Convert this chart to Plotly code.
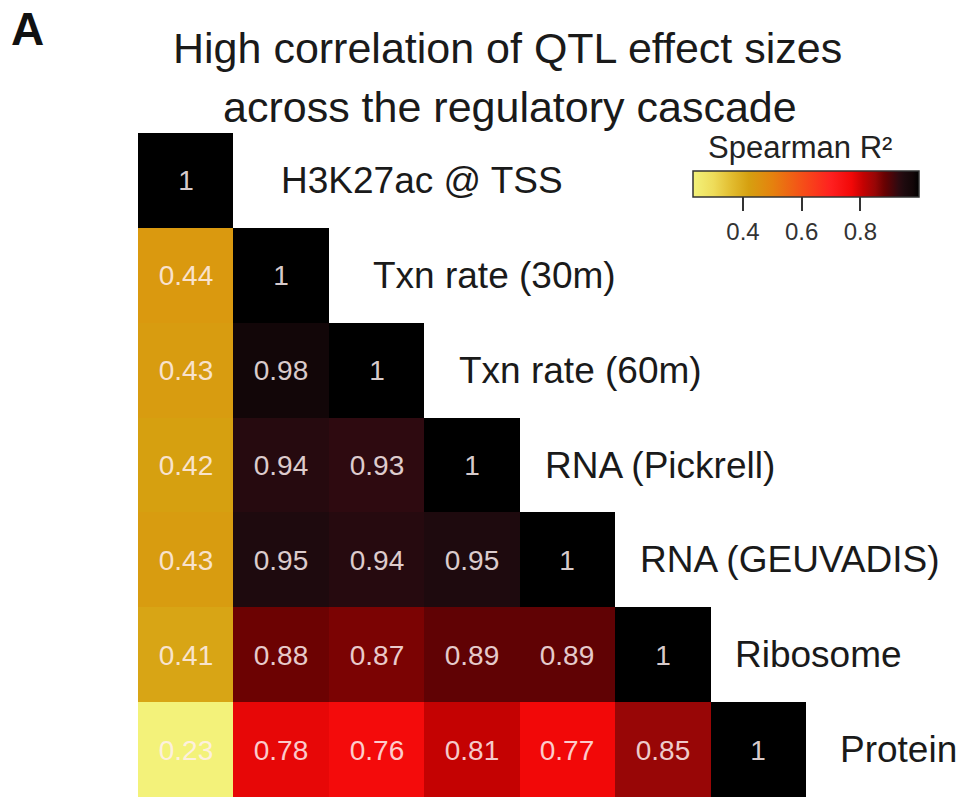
import plotly.graph_objects as go

labels = ["H3K27ac @ TSS", "Txn rate (30m)", "Txn rate (60m)", "RNA (Pickrell)",
          "RNA (GEUVADIS)", "Ribosome", "Protein"]
row0 = [1]
row1 = [0.44, 1]
row2 = [0.43, 0.98, 1]
row3 = [0.42, 0.94, 0.93, 1]
row4 = [0.43, 0.95, 0.94, 0.95, 1]
row5 = [0.41, 0.88, 0.87, 0.89, 0.89, 1]
row6 = [0.23, 0.78, 0.76, 0.81, 0.77, 0.85, 1]
rows = [row0, row1, row2, row3, row4, row5, row6]
cbar_ticks = [0.4, 0.6, 0.8]
zmin, zmax = 0.23, 1.0

n = len(labels)
z = [[r[j] if j < len(r) else None for j in range(n)] for r in rows]
txt = [[(f"{r[j]:g}" if j < len(r) else "") for j in range(n)] for r in rows]

stops = [(0.23, "#f3f27a"), (0.30, "#eedc5a"), (0.36, "#e2bd30"), (0.42, "#d6a010"),
         (0.50, "#e5820e"), (0.60, "#f55018"), (0.70, "#ff2020"), (0.77, "#f20808"),
         (0.81, "#c40202"), (0.85, "#980606"), (0.88, "#6c0202"), (0.89, "#600204"),
         (0.93, "#2e0a10"), (0.95, "#1e0a0e"), (0.98, "#120608"), (1.00, "#000000")]
colorscale = [[(v - zmin) / (zmax - zmin), c] for v, c in stops]

FONT = "Liberation Sans, Arial, Helvetica, sans-serif"

fig = go.Figure(go.Heatmap(
    z=z, x=list(range(n)), y=list(range(n)), text=txt, texttemplate="%{text}",
    textfont=dict(family=FONT, size=28, color="rgba(255,240,240,0.85)"),
    colorscale=colorscale, zmin=zmin, zmax=zmax, hoverongaps=False,
    colorbar=dict(
        orientation="h", lenmode="pixels", len=226, thickness=26,
        x=0.831, xanchor="left", y=(797 - 171) / 664, yanchor="top", yref="paper",
        xpad=0, ypad=0,
        outlinewidth=1.5, outlinecolor="#333",
        tickvals=cbar_ticks, ticktext=[f"{t:g}" for t in cbar_ticks],
        ticks="outside", ticklen=14, tickwidth=1.5, tickcolor="#333",
        tickfont=dict(family=FONT, size=24, color="#333"),
    ),
))

# colorbar title
fig.add_annotation(xref="paper", yref="paper", x=(800 - 138) / 668, y=1.0, yshift=133 - 147,
                   text="Spearman R²", showarrow=False, xanchor="center", yanchor="middle",
                   font=dict(family=FONT, size=31, color="#222"))

label_shift_px = [46, 42, 33, 23, 23, 22, 32]
for i, lab in enumerate(labels):
    fig.add_annotation(x=i + 0.5, y=i, text=lab, showarrow=False, xanchor="left",
                       yanchor="middle", xshift=label_shift_px[i],
                       font=dict(family=FONT, size=37, color="#1a1a1a"))

fig.add_annotation(xref="paper", yref="paper", x=-0.165, y=1.0, yshift=133 - 29,
                   text="<b>A</b>", showarrow=False, xanchor="center", yanchor="middle",
                   font=dict(family=FONT, size=46, color="#111"))
fig.add_annotation(xref="paper", yref="paper", x=(507 - 138) / 668, y=1.0, yshift=133 - 48,
                   text="High correlation of QTL effect sizes", showarrow=False,
                   xanchor="center", yanchor="middle",
                   font=dict(family=FONT, size=43, color="#1a1a1a"))
fig.add_annotation(xref="paper", yref="paper", x=(510 - 138) / 668, y=1.0, yshift=133 - 107,
                   text="across the regulatory cascade", showarrow=False,
                   xanchor="center", yanchor="middle",
                   font=dict(family=FONT, size=43, color="#1a1a1a"))

fig.update_xaxes(visible=False, range=[-0.5, n - 0.5])
fig.update_yaxes(visible=False, range=[n - 0.5, -0.5])
fig.update_layout(width=959, height=798, margin=dict(l=138, r=153, t=133, b=1),
                  plot_bgcolor="white", paper_bgcolor="white", showlegend=False)

fig.write_html("out.html")
